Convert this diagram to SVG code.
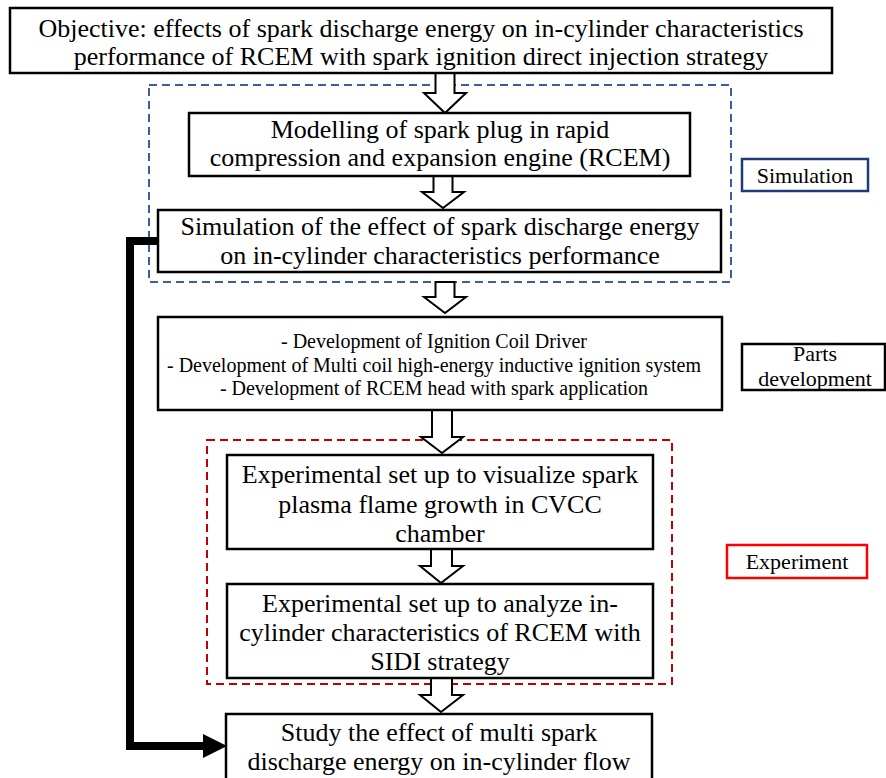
<svg xmlns="http://www.w3.org/2000/svg" width="886" height="778" viewBox="0 0 886 778">
<style>
.box{fill:#fff;stroke:#000;stroke-width:2.5}
.t{fill:#000;text-anchor:middle}
.big{font-size:26px}
.sm{font-size:20px}
.lab{font-size:22px}
.harrow{fill:#fff;stroke:#000;stroke-width:2;stroke-linejoin:miter}
</style>
<rect width="886" height="778" fill="#fff"/>
<g id="groups">
<rect x="149" y="85" width="582" height="197" fill="none" stroke="#3a5ea0" stroke-width="2" stroke-dasharray="8,5"/>
<rect x="207" y="440" width="465" height="244" fill="none" stroke="#c00000" stroke-width="2" stroke-dasharray="8,5"/>
</g>
<g id="connectors">
<polygon class="harrow" points="435.5,73 454.5,73 454.5,93 466,93 445,113 424,93 435.5,93"/>
<polygon class="harrow" points="433.5,176 452.5,176 452.5,192 464,192 443,208 422,192 433.5,192"/>
<polygon class="harrow" points="435.5,282 454.5,282 454.5,297 466,297 445,313 424,297 435.5,297"/>
<polygon class="harrow" points="432,410 452,410 452,437 463,437 442,453 421,437 432,437"/>
<polygon class="harrow" points="431,549 452,549 452,566 463,566 441,583 420,566 431,566"/>
<polygon class="harrow" points="431,678 452,678 452,695 463,695 441,712 420,695 431,695"/>
<polyline points="158,241 130,241 130,746 205,746" fill="none" stroke="#000" stroke-width="8"/>
<polygon points="203,734 227,746 203,758" fill="#000"/>
</g>
<g font-family="Liberation Serif, DejaVu Serif, serif">
<g id="objective">
<rect class="box" x="10" y="8" width="822" height="65"/>
<text class="t big" x="421" y="37">Objective: effects of spark discharge energy on in-cylinder characteristics</text>
<text class="t big" x="421" y="65">performance of RCEM with spark ignition direct injection strategy</text>
</g>
<g id="modelling">
<rect class="box" x="189" y="113" width="501" height="63"/>
<text class="t big" x="440" y="138">Modelling of spark plug in rapid</text>
<text class="t big" x="440" y="166">compression and expansion engine (RCEM)</text>
</g>
<g id="simulation-box">
<rect class="box" x="158" y="210" width="563" height="62"/>
<text class="t big" x="440" y="235">Simulation of the effect of spark discharge energy</text>
<text class="t big" x="440" y="264">on in-cylinder characteristics performance</text>
</g>
<g id="simulation-label">
<rect x="742" y="159" width="126" height="32" fill="#fff" stroke="#1f3a78" stroke-width="2.5"/>
<text class="t lab" x="805" y="183">Simulation</text>
</g>
<g id="parts">
<rect class="box" x="158" y="317" width="564" height="93"/>
<text class="t sm" x="434" y="348">- Development of Ignition Coil Driver</text>
<text class="t sm" x="434" y="372">- Development of Multi coil high-energy inductive ignition system</text>
<text class="t sm" x="434" y="395">- Development of RCEM head with spark application</text>
</g>
<g id="parts-label">
<rect x="742" y="344" width="143" height="46" fill="#fff" stroke="#000" stroke-width="2.5"/>
<text class="t lab" x="815" y="361">Parts</text>
<text class="t lab" x="815" y="386">development</text>
</g>
<g id="exp1">
<rect class="box" x="227" y="455" width="426" height="94"/>
<text class="t big" x="440" y="483">Experimental set up to visualize spark</text>
<text class="t big" x="440" y="513">plasma flame growth in CVCC</text>
<text class="t big" x="440" y="542">chamber</text>
</g>
<g id="exp2">
<rect class="box" x="227" y="584" width="426" height="94"/>
<text class="t big" x="440" y="612">Experimental set up to analyze in-</text>
<text class="t big" x="440" y="641">cylinder characteristics of RCEM with</text>
<text class="t big" x="440" y="670">SIDI strategy</text>
</g>
<g id="experiment-label">
<rect x="727" y="545" width="140" height="33" fill="#fff" stroke="#ff0000" stroke-width="2.5"/>
<text class="t lab" x="797" y="569">Experiment</text>
</g>
<g id="study">
<rect class="box" x="226" y="714" width="426" height="70"/>
<text class="t big" x="439" y="741">Study the effect of multi spark</text>
<text class="t big" x="439" y="770">discharge energy on in-cylinder flow</text>
</g>
</g>
</svg>
